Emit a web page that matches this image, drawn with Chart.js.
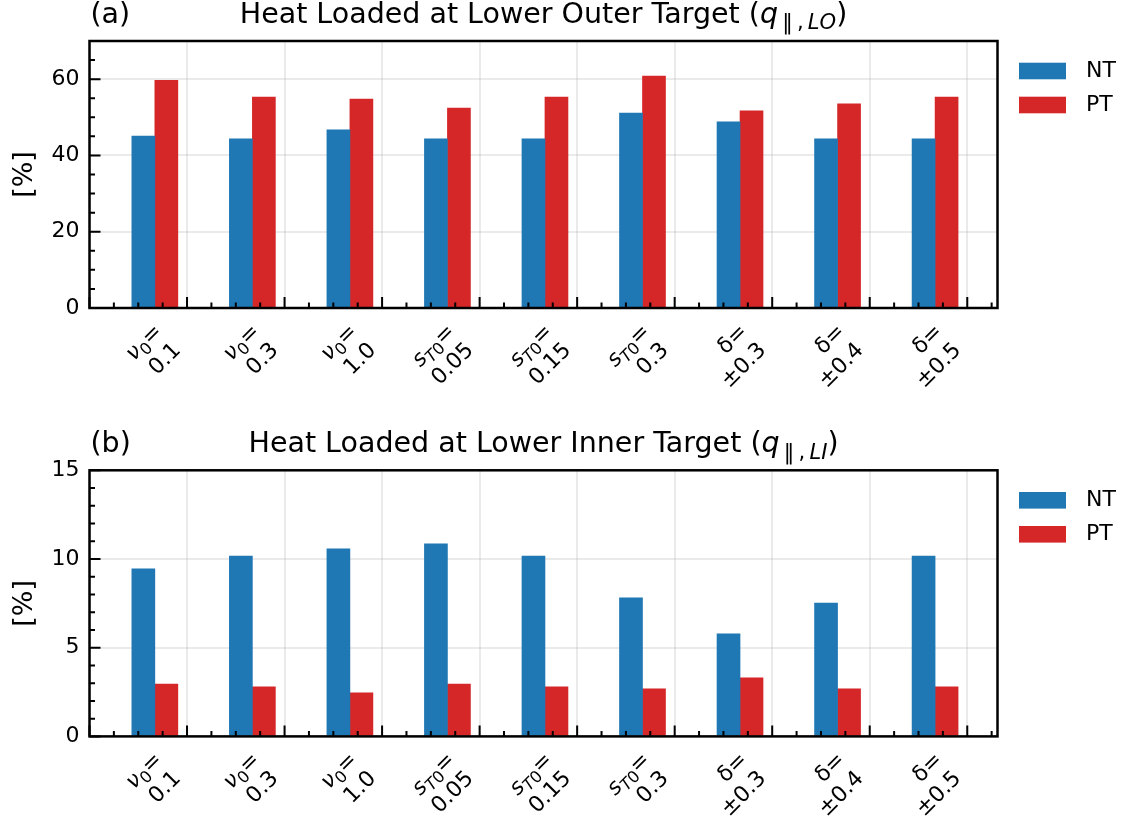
<!DOCTYPE html>
<html>
<head>
<meta charset="utf-8">
<script src="https://cdn.jsdelivr.net/npm/chart.js@4.4.1/dist/chart.umd.min.js"></script>
<style>
html, body { margin: 0; padding: 0; background: #fff; }
.box { position: absolute; left: 0; width: 1125px; height: 410px; }
</style>
</head>
<body>
<div class="box" style="top:0"><canvas id="outer"></canvas></div>
<div class="box" style="top:410px"><canvas id="inner"></canvas></div>
<script>
// tick labels: $...$ = math (italic letters), _{..} = subscript
const categories = ['$ν_0$=\n0.1', '$ν_0$=\n0.3', '$ν_0$=\n1.0',
  '$s_{T0}$=\n0.05', '$s_{T0}$=\n0.15', '$s_{T0}$=\n0.3',
  'δ=\n±0.3', 'δ=\n±0.4', 'δ=\n±0.5'];
const seriesNames = ['NT', 'PT'];
const outerNT = [45.1, 44.35, 46.7, 44.35, 44.35, 51.1, 48.8, 44.35, 44.35];
const outerPT = [59.7, 55.3, 54.8, 52.4, 55.3, 60.8, 51.7, 53.5, 55.3];
const innerNT = [9.44, 10.17, 10.57, 10.85, 10.17, 7.81, 5.78, 7.52, 10.17];
const innerPT = [2.95, 2.79, 2.45, 2.95, 2.79, 2.68, 3.3, 2.68, 2.79];
const outerTicks = [0, 20, 40, 60];
const innerTicks = [0, 5, 10, 15];

const colors = ['#1f77b4', '#d62728'];
const FONT = '"DejaVu Sans", sans-serif';
const barShift = 0.67;   // bars sit left of the label tick
const xMax = 9.31;

function parseRich(str) {
  const out = [];
  str.split('$').forEach((seg, k) => {
    if (k % 2 === 0) { if (seg) out.push({ t: seg, it: false, sub: false }); return; }
    let i = 0;
    while (i < seg.length) {
      let sub = false, chunk;
      if (seg[i] === '_') {
        sub = true; i++;
        if (seg[i] === '{') { const j = seg.indexOf('}', i); chunk = seg.slice(i + 1, j); i = j + 1; }
        else { chunk = seg[i]; i++; }
      } else { chunk = seg[i]; i++; }
      for (const ch of chunk) out.push({ t: ch, it: /[A-Za-zν]/.test(ch), sub });
    }
  });
  return out;
}

function richFont(p, size) {
  const s = p.sub ? size * 0.74 : size;
  return (p.it ? 'italic ' : '') + s + 'px ' + FONT;
}

function richWidth(ctx, parts, size) {
  let w = 0;
  parts.forEach(p => { ctx.font = richFont(p, size); w += ctx.measureText(p.t).width; });
  return w;
}

// draws at baseline y; align: 'left' | 'center' | 'right'
function drawRich(ctx, str, x, y, size, align) {
  const parts = parseRich(str);
  const w = richWidth(ctx, parts, size);
  let cx = align === 'center' ? x - w / 2 : align === 'right' ? x - w : x;
  ctx.textAlign = 'left';
  ctx.textBaseline = 'alphabetic';
  parts.forEach(p => {
    ctx.font = richFont(p, size);
    ctx.fillText(p.t, cx, p.sub ? y + size * 0.22 : y);
    cx += ctx.measureText(p.t).width;
  });
}

const framePlugin = {
  id: 'frame',
  afterDraw(chart, args, opts) {
    const ctx = chart.ctx;
    const a = chart.chartArea;
    const xs = chart.scales.x, ys = chart.scales.y;
    ctx.save();
    ctx.fillStyle = '#000';
    ctx.strokeStyle = '#000';

    // inward ticks
    ctx.lineWidth = 2;
    ctx.beginPath();
    for (let v = 0; v <= ys.max + 1e-9; v += opts.minor) {
      const y = ys.getPixelForValue(v);
      const major = opts.ticks.some(t => Math.abs(t - v) < 1e-6);
      ctx.moveTo(a.left, y); ctx.lineTo(a.left + (major ? 11 : 5.5), y);
    }
    for (let v = 0; v <= xMax + 1e-9; v += 0.25) {
      const x = xs.getPixelForValue(v);
      const major = Math.abs(v - Math.round(v)) < 1e-6;
      ctx.moveTo(x, a.bottom); ctx.lineTo(x, a.bottom - (major ? 11 : 5.5));
    }
    ctx.stroke();

    // frame
    ctx.lineWidth = 2.5;
    ctx.strokeRect(a.left, a.top, a.right - a.left, a.bottom - a.top);

    // x tick labels, rotated 45, right aligned on the integer ticks
    const fs = 22, lh = fs * 1.2;
    categories.forEach((c, i) => {
      const tx = xs.getPixelForValue(i + 1);
      ctx.save();
      ctx.translate(tx - Math.SQRT2 * lh, a.bottom + 11);
      ctx.rotate(-Math.PI / 4);
      c.split('\n').forEach((line, k) => {
        drawRich(ctx, line, 0, k * lh + fs * 0.86, fs, 'right');
      });
      ctx.restore();
    });

    // titles
    drawRich(ctx, opts.tag, a.left + 1, a.top - 18, 28.5, 'left');
    drawRich(ctx, opts.title, (a.left + a.right) / 2, a.top - 18, 28.5, 'center');

    // y label
    ctx.save();
    ctx.translate(32, (a.top + a.bottom) / 2);
    ctx.rotate(-Math.PI / 2);
    drawRich(ctx, '[%]', 0, 0, 27, 'center');
    ctx.restore();

    // legend
    chart.data.datasets.forEach((ds, k) => {
      const y0 = a.top + 21.7 + k * 34;
      ctx.fillStyle = ds.backgroundColor;
      ctx.fillRect(1019, y0, 47, 16.6);
      ctx.fillStyle = '#000';
      ctx.font = '22px ' + FONT;
      ctx.textBaseline = 'middle';
      ctx.textAlign = 'left';
      ctx.fillText(ds.label, 1086, y0 + 8.6);
    });
    ctx.restore();
  }
};

function makeChart(id, nt, pt, o) {
  const series = [nt, pt];
  return new Chart(document.getElementById(id), {
    type: 'bar',
    data: {
      datasets: series.map((vals, k) => ({
        label: seriesNames[k],
        data: vals.map((v, i) => ({ x: i + barShift, y: v })),
        backgroundColor: colors[k],
        barThickness: 23,
        borderWidth: 0
      }))
    },
    options: {
      responsive: true,
      maintainAspectRatio: false,
      animation: false,
      layout: { padding: { top: o.top, right: 127.5, left: 0, bottom: 0 } },
      plugins: {
        legend: { display: false },
        tooltip: { enabled: false },
        frame: { tag: o.tag, title: o.title, ticks: o.ticks, minor: o.minor }
      },
      scales: {
        x: {
          type: 'linear', min: 0, max: xMax, offset: false, z: 1,
          grid: { offset: false, color: 'rgba(160,160,160,0.22)', lineWidth: 2, drawTicks: false },
          border: { display: false },
          ticks: { display: false, stepSize: 1, includeBounds: false },
          afterFit: s => { s.height = o.xh; }
        },
        y: {
          min: 0, max: o.ymax, z: 1,
          afterBuildTicks: s => { s.ticks = o.ticks.map(v => ({ value: v })); },
          grid: { color: 'rgba(160,160,160,0.22)', lineWidth: 2, drawTicks: false },
          border: { display: false },
          ticks: { padding: 10, color: '#000', font: { family: FONT, size: 22 } },
          afterFit: s => { s.width = 89.5; }
        }
      }
    },
    plugins: [framePlugin]
  });
}

makeChart('outer', outerNT, outerPT, {
  top: 41, xh: 410 - 308, ymax: 70, ticks: outerTicks, minor: 5,
  tag: '(a)', title: 'Heat Loaded at Lower Outer Target ($q_{\u2009‖\u2009,\u2009LO}$)'
});
makeChart('inner', innerNT, innerPT, {
  top: 60.3, xh: 410 - 326.4, ymax: 15, ticks: innerTicks, minor: 1,
  tag: '(b)', title: 'Heat Loaded at Lower Inner Target ($q_{\u2009‖\u2009,\u2009LI}$)'
});
</script>
</body>
</html>
